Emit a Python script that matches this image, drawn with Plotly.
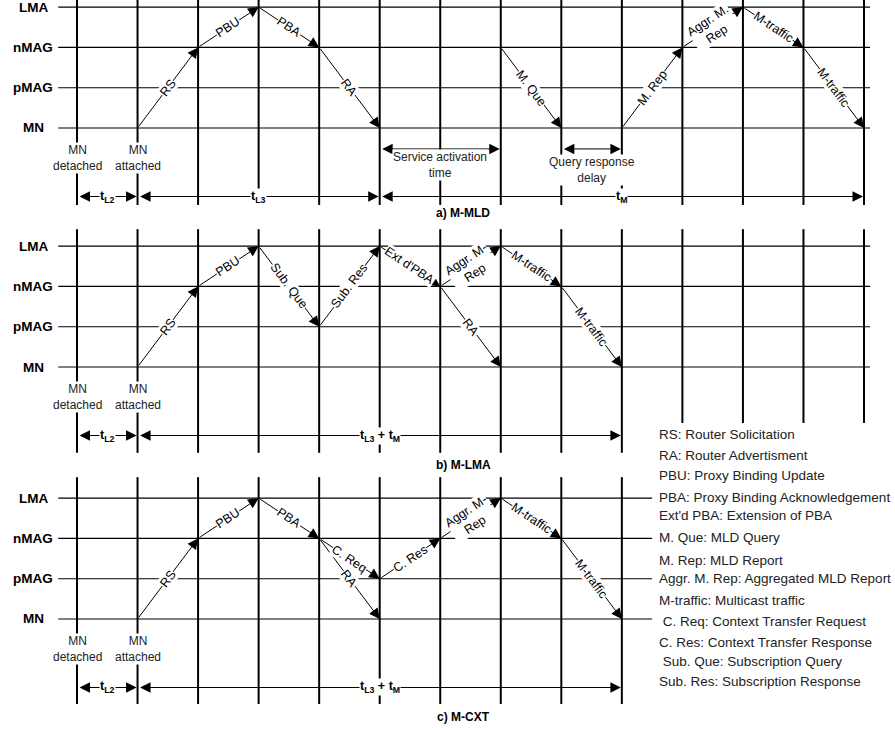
import math
import plotly.graph_objects as go

# ---------------- data ----------------
entities = ["MN", "pMAG", "nMAG", "LMA"]           # bottom -> top
instants = list(range(14))                         # time instants (vertical lines)

# messages: (label, from_entity, from_instant, to_entity, to_instant)
mld_messages = [
    ("RS", "MN", 1, "nMAG", 2),
    ("PBU", "nMAG", 2, "LMA", 3),
    ("PBA", "LMA", 3, "nMAG", 4),
    ("RA", "nMAG", 4, "MN", 5),
    ("M. Que", "nMAG", 7, "MN", 8),
    ("M. Rep", "MN", 9, "nMAG", 10),
    ("Aggr. M.<br>Rep", "nMAG", 10, "LMA", 11),
    ("M-traffic", "LMA", 11, "nMAG", 12),
    ("M-traffic", "nMAG", 12, "MN", 13),
]
lma_messages = [
    ("RS", "MN", 1, "nMAG", 2),
    ("PBU", "nMAG", 2, "LMA", 3),
    ("Sub. Que", "LMA", 3, "pMAG", 4),
    ("Sub. Res", "pMAG", 4, "LMA", 5),
    ("Ext d'PBA", "LMA", 5, "nMAG", 6),
    ("RA", "nMAG", 6, "MN", 7),
    ("Aggr. M-<br>Rep", "nMAG", 6, "LMA", 7),
    ("M-traffic", "LMA", 7, "nMAG", 8),
    ("M-traffic", "nMAG", 8, "MN", 9),
]
cxt_messages = [
    ("RS", "MN", 1, "nMAG", 2),
    ("PBU", "nMAG", 2, "LMA", 3),
    ("PBA", "LMA", 3, "nMAG", 4),
    ("C. Req", "nMAG", 4, "pMAG", 5),
    ("RA", "nMAG", 4, "MN", 5),
    ("C. Res", "pMAG", 5, "nMAG", 6),
    ("Aggr. M-<br>Rep", "nMAG", 6, "LMA", 7),
    ("M-traffic", "LMA", 7, "nMAG", 8),
    ("M-traffic", "nMAG", 8, "MN", 9),
]

# timing intervals: (label, from_instant, to_instant)
mld_intervals = [("<b>t<sub>L2</sub></b>", 0, 1), ("<b>t<sub>L3</sub></b>", 1, 5),
                 ("<b>t<sub>M</sub></b>", 5, 13)]
lma_intervals = [("<b>t<sub>L2</sub></b>", 0, 1),
                 ("<b>t<sub>L3</sub> + t<sub>M</sub></b>", 1, 9)]
cxt_intervals = [("<b>t<sub>L2</sub></b>", 0, 1),
                 ("<b>t<sub>L3</sub> + t<sub>M</sub></b>", 1, 9)]

# delays marked in M-MLD: (label, from_instant, to_instant)
mld_delays = [("Service activation<br>time", 5, 7), ("Query response<br>delay", 8, 9)]

event_labels = [("MN<br>detached", 0), ("MN<br>attached", 1)]
captions = ["a) M-MLD", "b) M-LMA", "c) M-CXT"]

legend_items = [
    "RS: Router Solicitation",
    "RA: Router Advertisment",
    "PBU: Proxy Binding Update",
    "PBA: Proxy Binding Acknowledgement",
    "Ext'd PBA: Extension of PBA",
    "M. Que: MLD Query",
    "M. Rep: MLD Report",
    "Aggr. M. Rep: Aggregated MLD Report",
    "M-traffic: Multicast traffic",
    " C. Req: Context Transfer Request",
    "C. Res: Context Transfer Response",
    " Sub. Que: Subscription Query",
    "Sub. Res: Subscription Response",
]

# ---------------- layout constants ----------------
W, H = 895, 729
FONT = "Liberation Sans, Arial, Helvetica, sans-serif"
TXT = "#222222"
XR = [-1.272, 13.512]
XS = W / (XR[1] - XR[0])                     # px per instant
AS = 2.1                                     # arrow head size

panels = [
    dict(ref="y", domain=[1 - 220 / H, 1.0], range=[-2.283, 3.176],
         msgs=mld_messages, ints=mld_intervals, vtop=3.3,
         vbot=lambda s: -1.91, vsteps=instants, hright=13.1, cap_y=-2.11),
    dict(ref="y2", domain=[1 - 470 / H, 1 - 220 / H], range=[-2.556, 3.648],
         msgs=lma_messages, ints=lma_intervals, vtop=3.42,
         vbot=lambda s: -2.13 if s <= 9 else -1.39, vsteps=instants, hright=13.1,
         cap_y=-2.43),
    dict(ref="y3", domain=[0.0, 1 - 470 / H], range=[-2.730, 3.697],
         msgs=cxt_messages, ints=cxt_intervals, vtop=3.52,
         vbot=lambda s: -2.11, vsteps=instants[:10], hright=9.5, cap_y=-2.43),
]

fig = go.Figure()
annotations = []
eidx = {e: i for i, e in enumerate(entities)}

for p, cap in zip(panels, captions):
    ref = p["ref"]
    ys = (p["domain"][1] - p["domain"][0]) * H / (p["range"][1] - p["range"][0])
    # vertical time lines
    vx, vy = [], []
    for s in p["vsteps"]:
        vx += [s, s, None]
        vy += [p["vtop"], p["vbot"](s), None]
    fig.add_trace(go.Scatter(x=vx, y=vy, mode="lines", yaxis=ref, cliponaxis=False,
                             line=dict(color="black", width=2),
                             hoverinfo="skip", showlegend=False))
    # horizontal entity lines
    hx, hy = [], []
    for e in entities:
        hx += [-0.31, p["hright"], None]
        hy += [eidx[e], eidx[e], None]
    fig.add_trace(go.Scatter(x=hx, y=hy, mode="lines", yaxis=ref,
                             line=dict(color="black", width=1.1),
                             hoverinfo="skip", showlegend=False))
    # entity names
    for e in entities:
        annotations.append(dict(x=33 / W, xref="paper", xanchor="center",
                                y=eidx[e], yref=ref, yanchor="middle",
                                text=f"<b>{e}</b>", showarrow=False,
                                font=dict(size=13.5, color="black", family=FONT)))
    # message arrows
    for lab, fe, fs, te, ts in p["msgs"]:
        annotations.append(dict(x=ts, y=eidx[te], ax=fs, ay=eidx[fe], xref="x", yref=ref,
                                axref="x", ayref=ref, text="", showarrow=True,
                                arrowhead=2, arrowsize=AS, arrowwidth=1,
                                arrowcolor="black", standoff=0))
    # message labels
    for lab, fe, fs, te, ts in p["msgs"]:
        dx = (ts - fs) * XS
        dy = (eidx[te] - eidx[fe]) * ys
        ang = -math.degrees(math.atan2(dy, dx))
        annotations.append(dict(x=(fs + ts) / 2, y=(eidx[fe] + eidx[te]) / 2,
                                xref="x", yref=ref, text=lab, showarrow=False,
                                textangle=ang, bgcolor="white", borderpad=0,
                                font=dict(size=12.5, color="black", family=FONT)))
    # event labels
    for lab, s in event_labels:
        annotations.append(dict(x=s, y=-0.75, xref="x", yref=ref, text=lab,
                                showarrow=False, bgcolor="white", borderpad=0,
                                font=dict(size=12, color=TXT, family=FONT)))
    # interval arrows
    for lab, s0, s1 in p["ints"]:
        annotations.append(dict(x=s1, y=-1.7, ax=s0, ay=-1.7, xref="x", yref=ref,
                                axref="x", ayref=ref, text="", showarrow=True,
                                arrowside="end+start", arrowhead=2, startarrowhead=2,
                                arrowsize=AS, startarrowsize=AS, arrowwidth=1,
                                arrowcolor="black", standoff=1, startstandoff=1))
    for lab, s0, s1 in p["ints"]:
        annotations.append(dict(x=(s0 + s1) / 2, y=-1.7, xref="x", yref=ref, text=lab,
                                showarrow=False, bgcolor="white", borderpad=0,
                                font=dict(size=12.5, color="black", family=FONT)))
    annotations.append(dict(x=6.38, y=p["cap_y"], xref="x", yref=ref,
                            text=f"<b>{cap}</b>", showarrow=False,
                            font=dict(size=12, color="black", family=FONT)))

# delays in M-MLD panel
for (lab, s0, s1), ty in zip(mld_delays, [-0.92, -1.04]):
    annotations.append(dict(x=s1, y=-0.52, ax=s0, ay=-0.52, xref="x", yref="y",
                            axref="x", ayref="y", text="", showarrow=True,
                            arrowside="end+start", arrowhead=2, startarrowhead=2,
                            arrowsize=AS, startarrowsize=AS, arrowwidth=1,
                            arrowcolor="black", standoff=1, startstandoff=1))
    annotations.append(dict(x=(s0 + s1) / 2, y=ty, xref="x", yref="y", text=lab,
                            showarrow=False, bgcolor="white", borderpad=0,
                            font=dict(size=12, color=TXT, family=FONT)))

# abbreviations list
legend_y = [435, 455, 476, 497, 515, 537, 560, 578, 600, 621, 642, 661, 681]
for txt, py in zip(legend_items, legend_y):
    annotations.append(dict(x=657 / W, xref="paper", xanchor="left",
                            y=1 - py / H, yref="paper", yanchor="middle",
                            text=txt, showarrow=False,
                            font=dict(size=13.5, color=TXT, family=FONT)))

axis_off = dict(visible=False, showgrid=False, zeroline=False, fixedrange=True)
fig.update_layout(
    width=W, height=H, margin=dict(l=0, r=0, t=0, b=0),
    paper_bgcolor="white", plot_bgcolor="white",
    xaxis=dict(range=XR, domain=[0, 1], **axis_off),
    yaxis=dict(range=panels[0]["range"], domain=panels[0]["domain"], **axis_off),
    yaxis2=dict(range=panels[1]["range"], domain=panels[1]["domain"], anchor="x", **axis_off),
    yaxis3=dict(range=panels[2]["range"], domain=panels[2]["domain"], anchor="x", **axis_off),
    annotations=annotations, showlegend=False,
    font=dict(family=FONT),
)
fig.write_html("out.html", config={"displayModeBar": False},
               post_script="document.body.style.margin='0';document.body.style.overflow='hidden';")
